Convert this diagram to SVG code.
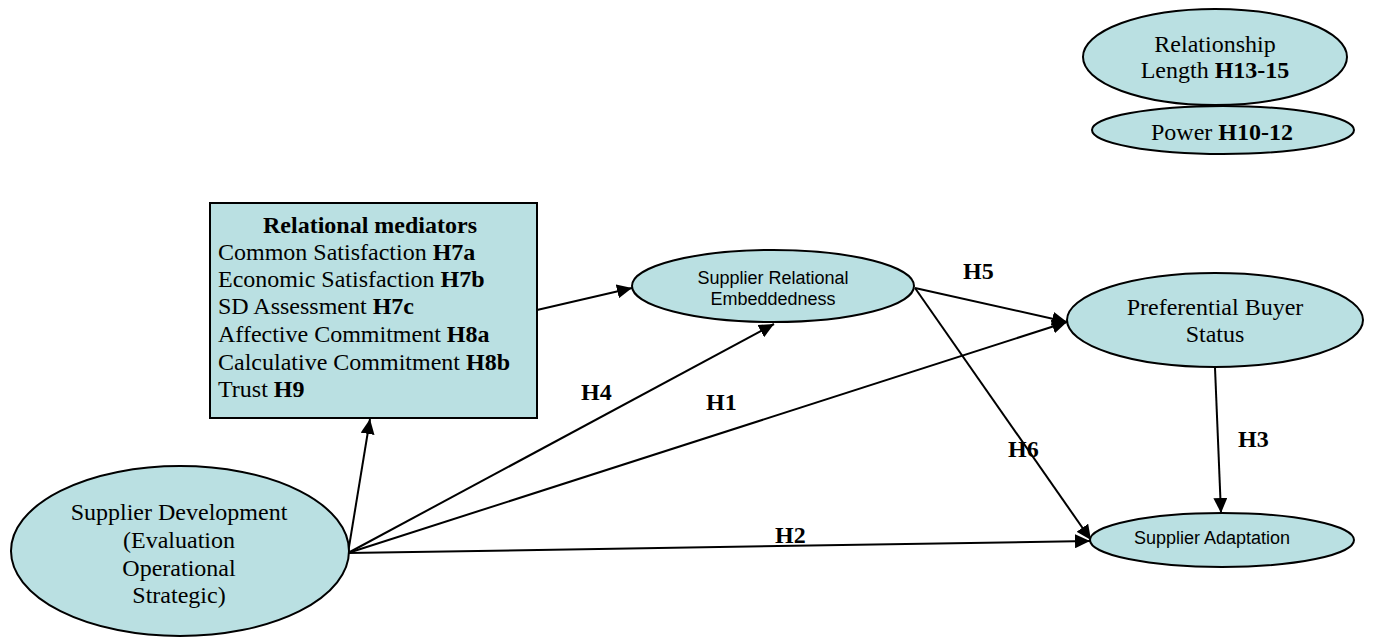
<svg xmlns="http://www.w3.org/2000/svg" width="1373" height="639" viewBox="0 0 1373 639">
<style>
.node{fill:#BAE0E2;stroke:#000;stroke-width:2}
.t{font-family:"Liberation Serif","Times New Roman",serif;font-size:24px;fill:#000}
.a{font-family:"Liberation Sans",Arial,sans-serif;font-size:18px;fill:#000}
.b{font-weight:bold}
.lbl{font-family:"Liberation Serif","Times New Roman",serif;font-size:24px;font-weight:bold;fill:#000}
.c{fill:none;stroke:#000;stroke-width:2}
</style>
<defs>
<marker id="ah" markerUnits="userSpaceOnUse" markerWidth="16" markerHeight="14" refX="15" refY="7" orient="auto">
<path d="M0,0 L15,7 L0,14 z" fill="#000"/>
</marker>
</defs>
<rect width="1373" height="639" fill="#fff"/>
<g id="connectors">
<line class="c" x1="348" y1="553" x2="370" y2="419" marker-end="url(#ah)"/>
<line class="c" x1="537" y1="310" x2="632" y2="288" marker-end="url(#ah)"/>
<line class="c" x1="348" y1="553" x2="774" y2="324" marker-end="url(#ah)"/>
<line class="c" x1="348" y1="553" x2="1067" y2="322" marker-end="url(#ah)"/>
<line class="c" x1="915" y1="288" x2="1067" y2="322" marker-end="url(#ah)"/>
<line class="c" x1="915" y1="288" x2="1091" y2="540" marker-end="url(#ah)"/>
<line class="c" x1="1215" y1="368" x2="1221" y2="513" marker-end="url(#ah)"/>
<line class="c" x1="348" y1="553" x2="1090" y2="541" marker-end="url(#ah)"/>
<text class="lbl" x="963" y="279">H5</text>
<text class="lbl" x="581" y="400">H4</text>
<text class="lbl" x="706" y="410">H1</text>
<text class="lbl" x="1008" y="457">H6</text>
<text class="lbl" x="1238" y="447">H3</text>
<text class="lbl" x="775" y="543">H2</text>
</g>
<g id="relationship-length">
<ellipse class="node" cx="1215" cy="57" rx="132" ry="48"/>
<text class="t" x="1215" y="52" text-anchor="middle">Relationship</text>
<text class="t" x="1215" y="78" text-anchor="middle">Length <tspan class="b">H13-15</tspan></text>
</g>
<g id="power">
<ellipse class="node" cx="1223" cy="130" rx="131" ry="24"/>
<text class="t" x="1222" y="140" text-anchor="middle">Power <tspan class="b">H10-12</tspan></text>
</g>
<g id="relational-mediators">
<rect class="node" x="210" y="203" width="327" height="215"/>
<text class="t b" x="370" y="233" text-anchor="middle">Relational mediators</text>
<text class="t" x="218" y="260">Common Satisfaction <tspan class="b">H7a</tspan></text>
<text class="t" x="218" y="287">Economic Satisfaction <tspan class="b">H7b</tspan></text>
<text class="t" x="218" y="314">SD Assessment <tspan class="b">H7c</tspan></text>
<text class="t" x="218" y="342">Affective Commitment <tspan class="b">H8a</tspan></text>
<text class="t" x="218" y="370">Calculative Commitment <tspan class="b">H8b</tspan></text>
<text class="t" x="218" y="397">Trust <tspan class="b">H9</tspan></text>
</g>
<g id="supplier-relational-embeddedness">
<ellipse class="node" cx="773" cy="286" rx="141" ry="36"/>
<text class="a" x="773" y="284" text-anchor="middle">Supplier Relational</text>
<text class="a" x="773" y="305" text-anchor="middle">Embeddedness</text>
</g>
<g id="preferential-buyer-status">
<ellipse class="node" cx="1215" cy="320" rx="148" ry="47"/>
<text class="t" x="1215" y="315" text-anchor="middle">Preferential Buyer</text>
<text class="t" x="1215" y="342" text-anchor="middle">Status</text>
</g>
<g id="supplier-adaptation">
<ellipse class="node" cx="1222" cy="540" rx="132" ry="27"/>
<text class="a" x="1212" y="544" text-anchor="middle">Supplier Adaptation</text>
</g>
<g id="supplier-development">
<ellipse class="node" cx="180" cy="551" rx="169" ry="85"/>
<text class="t" x="179" y="520" text-anchor="middle">Supplier Development</text>
<text class="t" x="179" y="548" text-anchor="middle">(Evaluation</text>
<text class="t" x="179" y="576" text-anchor="middle">Operational</text>
<text class="t" x="179" y="603" text-anchor="middle">Strategic)</text>
</g>
</svg>
